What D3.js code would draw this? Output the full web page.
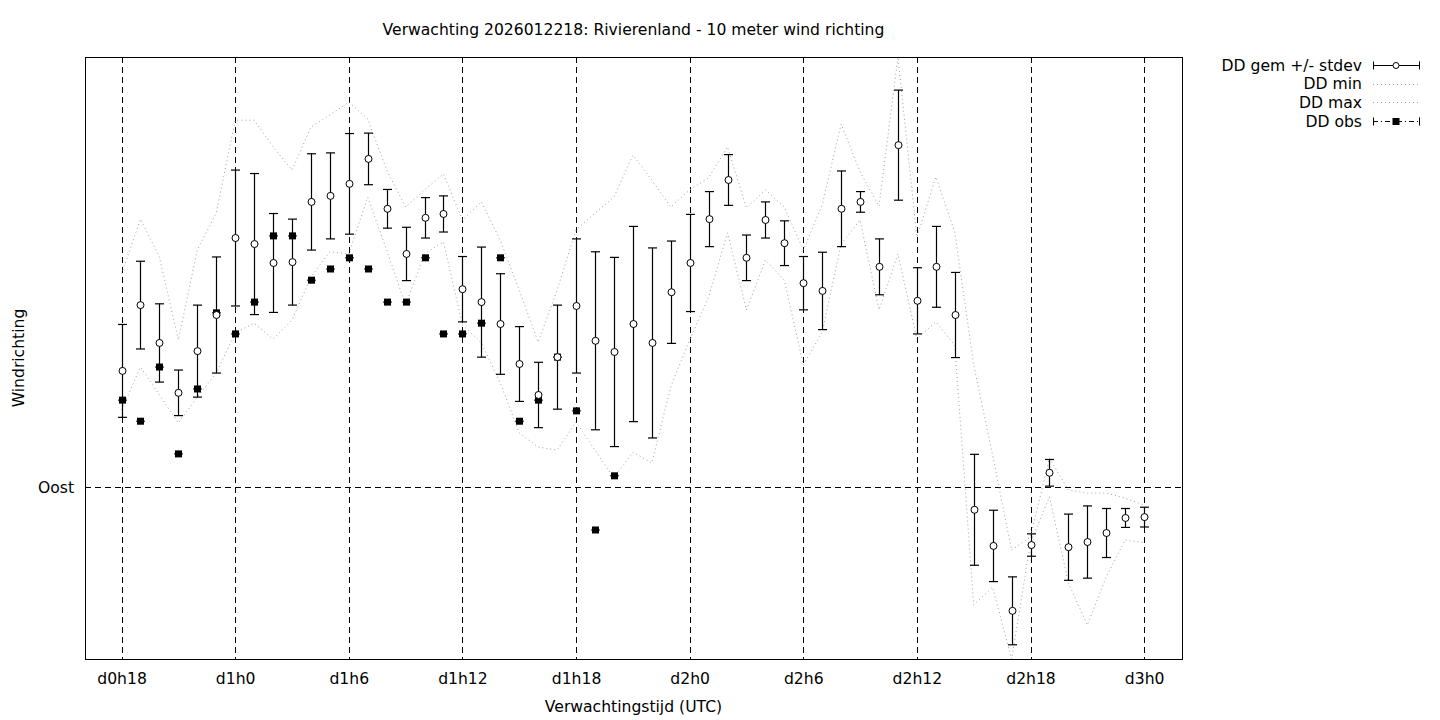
<!DOCTYPE html>
<html>
<head>
<meta charset="utf-8">
<script src="https://cdn.jsdelivr.net/npm/d3@7"></script>
<style>
  html, body { margin: 0; padding: 0; background: #fff; }
  svg { display: block; font-family: "DejaVu Sans", sans-serif; }
</style>
</head>
<body>
<svg id="chart" width="1440" height="720"></svg>
<script>
// Hours since d0h18 (UTC), hourly
const hours = d3.range(0, 55);
const tickHours = [0, 6, 12, 18, 24, 30, 36, 42, 48, 54];
const tickLabels = ["d0h18", "d1h0", "d1h6", "d1h12", "d1h18", "d2h0", "d2h6", "d2h12", "d2h18", "d3h0"];
const yTickValues = [90];
const yTickLabels = ["Oost"];

// Ensemble mean wind direction (degrees)
const ddMean = [117.0,132.3,123.5,111.9,121.6,130.0,147.9,146.5,142.1,142.3,
  156.3,157.7,160.5,166.3,154.7,144.2,152.6,153.5,136.0,133.0,
  127.9,118.6,111.4,120.2,132.1,124.0,121.4,127.9,123.5,135.3,
  142.1,152.3,161.4,143.3,152.1,146.7,137.4,135.6,154.7,156.3,
  141.2,169.5,133.3,141.2,130.0,84.7,76.3,61.2,76.5,93.3,
  76.0,77.2,79.3,82.8,83.0];
// Standard deviation (degrees)
const ddStdev = [10.8,10.2,9.1,5.3,10.7,13.5,15.8,16.4,11.5,10.0,
  11.2,10.0,11.7,6.0,4.5,6.2,4.7,4.2,7.6,12.8,
  11.7,8.7,7.6,12.1,15.6,20.7,22.0,22.7,22.1,11.9,
  11.3,6.4,5.9,5.3,4.2,5.2,6.2,9.0,8.8,2.4,
  6.5,12.8,7.7,9.4,9.9,12.9,8.3,7.9,2.6,3.1,
  7.7,8.4,5.7,2.2,2.3];
// Ensemble minimum
const ddMin = [107.9,117.9,111.4,104.9,110.9,116.5,125.8,128.1,124.4,128.8,
  138.8,144.7,144.2,157.4,145.1,132.3,144.2,147.0,127.7,123.5,
  114.2,102.6,99.3,98.6,105.1,98.6,92.1,98.1,95.6,113.3,
  124.2,134.2,149.1,131.2,142.8,138.1,118.4,126.0,146.5,152.1,
  131.2,144.2,124.4,128.4,123.0,62.6,66.7,50.0,77.0,87.7,
  67.7,57.9,69.1,77.7,77.0];
// Ensemble maximum
const ddMax = [139.5,152.3,143.5,124.2,145.1,153.7,175.3,175.3,169.1,163.7,
  173.7,176.5,179.5,175.6,163.7,155.1,159.1,162.8,152.1,156.3,
  147.4,135.8,123.7,135.8,149.8,153.7,157.4,167.2,161.4,155.1,
  159.1,161.9,169.1,154.9,159.1,155.1,145.1,155.6,174.4,163.3,
  155.3,190.0,148.1,162.1,149.3,118.4,97.4,75.3,78.4,96.7,
  89.3,88.6,88.6,87.4,85.8];
// Observations (first 27 hours)
const ddObs = [110.2,105.3,117.9,97.7,112.8,130.5,125.6,133.0,148.4,148.4,
  138.1,140.7,143.3,140.7,133.0,133.0,143.3,125.6,125.6,128.1,
  143.3,105.3,110.2,120.2,107.7,80.0,92.6];

const svg = d3.select("#chart");
const L = 85, R = 1182, T = 57, B = 659;
const FS = 15.6;

const x = d3.scaleLinear().domain([-1.93, 56.0]).range([L, R]);
const y = d3.scaleLinear().domain([50, 190]).range([B, T]);

const font = "DejaVu Sans, sans-serif";

// grid
const g = svg.append("g");
g.selectAll("line.vg").data(tickHours).join("line")
  .attr("x1", d => Math.round(x(d)) + 0.5).attr("x2", d => Math.round(x(d)) + 0.5)
  .attr("y1", T).attr("y2", B)
  .attr("stroke", "#000").attr("stroke-width", 1).attr("stroke-dasharray", "6,4");
g.selectAll("line.hg").data(yTickValues).join("line")
  .attr("x1", L).attr("x2", R)
  .attr("y1", d => Math.round(y(d)) + 0.5).attr("y2", d => Math.round(y(d)) + 0.5)
  .attr("stroke", "#000").attr("stroke-width", 1).attr("stroke-dasharray", "6,4");

// axes via d3 axis (ticks hidden, labels shown)
const xAxis = d3.axisBottom(x).tickValues(tickHours)
  .tickFormat((d, i) => tickLabels[i]).tickSize(0).tickPadding(14);
svg.append("g").attr("transform", `translate(0,${B})`).call(xAxis)
  .call(a => a.select(".domain").remove())
  .selectAll("text").attr("font-size", FS).attr("font-family", font).attr("fill", "#000");
const yAxis = d3.axisLeft(y).tickValues(yTickValues)
  .tickFormat((d, i) => yTickLabels[i]).tickSize(0).tickPadding(11);
svg.append("g").attr("transform", `translate(${L},0)`).call(yAxis)
  .call(a => a.select(".domain").remove())
  .selectAll("text").attr("font-size", FS).attr("font-family", font).attr("fill", "#000");

// clip
svg.append("clipPath").attr("id", "clip").append("rect")
  .attr("x", L).attr("y", T).attr("width", R - L).attr("height", B - T);
const plot = svg.append("g").attr("clip-path", "url(#clip)");

// min / max dotted lines
const lineOf = arr => d3.line().x((d, i) => x(hours[i])).y(d => y(d))(arr);
[ddMin, ddMax].forEach(arr => {
  plot.append("path").attr("d", lineOf(arr)).attr("fill", "none")
    .attr("stroke", "#a0a0a0").attr("stroke-width", 1).attr("stroke-dasharray", "1,3");
});

// error bars
const cap = 4.5;
const eb = plot.append("g").attr("stroke", "#000").attr("stroke-width", 1.2);
hours.forEach((h, i) => {
  const cx = Math.round(x(h)) + 0.5;
  const y1 = y(ddMean[i] + ddStdev[i]), y2 = y(ddMean[i] - ddStdev[i]);
  eb.append("line").attr("x1", cx).attr("x2", cx).attr("y1", y1).attr("y2", y2);
  eb.append("line").attr("x1", cx - cap).attr("x2", cx + cap).attr("y1", y1).attr("y2", y1);
  eb.append("line").attr("x1", cx - cap).attr("x2", cx + cap).attr("y1", y2).attr("y2", y2);
});

// observations
ddObs.forEach((v, i) => {
  const cx = Math.round(x(hours[i])) + 0.5;
  plot.append("line").attr("x1", cx - cap).attr("x2", cx + cap)
    .attr("y1", y(v)).attr("y2", y(v)).attr("stroke", "#000").attr("stroke-width", 1);
  plot.append("rect").attr("x", cx - 3.5).attr("y", y(v) - 3.5)
    .attr("width", 7).attr("height", 7).attr("fill", "#000");
});

// mean circles
plot.selectAll("circle.mean").data(ddMean).join("circle")
  .attr("cx", (d, i) => Math.round(x(hours[i])) + 0.5).attr("cy", d => y(d)).attr("r", 3.5)
  .attr("fill", "#fff").attr("stroke", "#000").attr("stroke-width", 1);

// frame
svg.append("rect").attr("x", L + 0.5).attr("y", T + 0.5).attr("width", R - L).attr("height", B - T)
  .attr("fill", "none").attr("stroke", "#000").attr("stroke-width", 1);

// title and labels
svg.append("text").attr("x", (L + R) / 2).attr("y", 35).attr("text-anchor", "middle")
  .attr("font-size", FS).attr("font-family", font)
  .text("Verwachting 2026012218: Rivierenland - 10 meter wind richting");
svg.append("text").attr("x", (L + R) / 2).attr("y", 712).attr("text-anchor", "middle")
  .attr("font-size", FS).attr("font-family", font).text("Verwachtingstijd (UTC)");
svg.append("text").attr("transform", `translate(24,${(T + B) / 2}) rotate(-90)`)
  .attr("text-anchor", "middle").attr("font-size", FS).attr("font-family", font).text("Windrichting");

// legend
const legendNames = ["DD gem +/- stdev", "DD min", "DD max", "DD obs"];
const lg = svg.append("g");
const lx1 = 1373, lx2 = 1419, ltx = 1362;
legendNames.forEach((name, i) => {
  const ly = 65 + i * 18.7;
  lg.append("text").attr("x", ltx).attr("y", ly + 5.5).attr("text-anchor", "end")
    .attr("font-size", FS).attr("font-family", font).text(name);
  const yy = Math.round(ly) + 0.5;
  if (i === 0 || i === 3) {
    lg.append("line").attr("x1", lx1).attr("x2", lx2).attr("y1", yy).attr("y2", yy)
      .attr("stroke", "#000").attr("stroke-width", 1)
      .attr("stroke-dasharray", i === 3 ? "5,3,1,3" : null);
    [lx1, lx2].forEach(xx => lg.append("line").attr("x1", xx + 0.5).attr("x2", xx + 0.5)
      .attr("y1", yy - 4).attr("y2", yy + 4).attr("stroke", "#000"));
    if (i === 0) {
      lg.append("circle").attr("cx", (lx1 + lx2) / 2).attr("cy", yy).attr("r", 3)
        .attr("fill", "#fff").attr("stroke", "#000");
    } else {
      lg.append("rect").attr("x", (lx1 + lx2) / 2 - 3.5).attr("y", yy - 3.5)
        .attr("width", 7).attr("height", 7).attr("fill", "#000");
    }
  } else {
    lg.append("line").attr("x1", lx1).attr("x2", lx2).attr("y1", yy).attr("y2", yy)
      .attr("stroke", "#a0a0a0").attr("stroke-width", 1).attr("stroke-dasharray", "1,3");
  }
});
</script>
</body>
</html>
